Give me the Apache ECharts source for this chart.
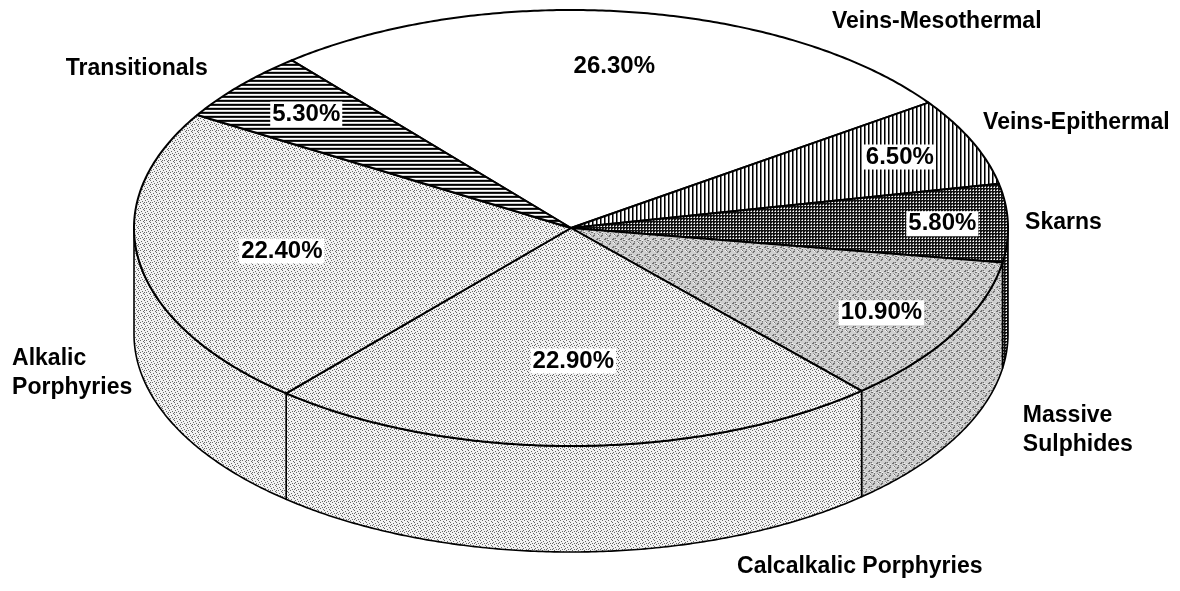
<!DOCTYPE html>
<html><head><meta charset="utf-8">
<script src="https://cdn.jsdelivr.net/npm/echarts@6/dist/echarts.min.js"></script>
<style>html,body{margin:0;padding:0;background:#fff}#c{width:1180px;height:591px}</style>
</head><body><div id="c"></div>
<script>
// ---- data ----
const categories = ['Veins-Mesothermal','Veins-Epithermal','Skarns','Massive Sulphides','Calcalkalic Porphyries','Alkalic Porphyries','Transitionals'];
const values = [26.3, 6.5, 5.8, 10.9, 22.9, 22.4, 5.3];
const nameLabels = ['Veins-Mesothermal','Veins-Epithermal','Skarns','Massive\nSulphides','Calcalkalic Porphyries','Alkalic\nPorphyries','Transitionals'];

// ---- layout ----
const PIE = {cx:571, cy:228, rx:437, ry:218, depth:106, startDeg:129.7};
const pctLabelRadius = [0.75,0.82,0.85,0.81,0.61,0.67,0.80];
const nameLabelAnchor = [[0.597,-0.945],[0.943,-0.482],[1.039,-0.023],[1.034,0.927],[0.380,1.555],[-1.279,0.667],[-1.156,-0.729]];

// ---- patterns ----
function pat(w,h,fn){const c=document.createElement('canvas');c.width=w;c.height=h;const x=c.getContext('2d');fn(x,w,h);return {image:c,repeat:'repeat'};}
function px(x,col,a,b){x.fillStyle=col;x.fillRect(a,b,1,1);}
const fills = [
  '#ffffff',
  pat(4,1,(x)=>{x.fillStyle='#fff';x.fillRect(0,0,4,1);px(x,'#000',0,0);px(x,'#777',1,0);}),
  pat(3,3,(x)=>{x.fillStyle='#111';x.fillRect(0,0,3,3);px(x,'#fff',1,1);px(x,'#999',1,0);px(x,'#999',0,1);}),
  pat(8,8,(x)=>{x.fillStyle='#cfcfcf';x.fillRect(0,0,8,8);for(let i=0;i<8;i++)for(let j=0;j<8;j++){const h=(i*7+j*13+i*j*3)%11;if(h===0||h===5)px(x,'#707070',i,j);else if(h===3)px(x,'#f4f4f4',i,j);else if(h===8)px(x,'#a0a0a0',i,j);}}),
  pat(6,6,(x)=>{x.fillStyle='#f2f2f2';x.fillRect(0,0,6,6);[[0,0],[3,1],[1,2],[4,3],[2,4],[5,5],[0,3]].forEach(p=>px(x,'#666',p[0],p[1]));}),
  pat(6,6,(x)=>{x.fillStyle='#f2f2f2';x.fillRect(0,0,6,6);[[0,0],[3,1],[1,2],[4,3],[2,4],[5,5],[0,4]].forEach(p=>px(x,'#6a6a6a',p[0],p[1]));}),
  pat(1,4,(x)=>{x.fillStyle='#fff';x.fillRect(0,0,1,4);px(x,'#000',0,0);px(x,'#222',0,1);px(x,'#ccc',0,3);})
];

const total = values.reduce((a,b)=>a+b,0);
function pt(deg,k,dz){const r=deg*Math.PI/180;return [PIE.cx+PIE.rx*k*Math.cos(r), PIE.cy-PIE.ry*k*Math.sin(r)+(dz||0)];}
function arc(a,b,dz){const pts=[];const n=Math.max(2,Math.ceil(Math.abs(a-b)/0.5));for(let s=0;s<=n;s++){pts.push(pt(a+(b-a)*s/n,1,dz));}return pts;}

const chart = echarts.init(document.getElementById('c'),null,{renderer:'canvas'});
chart.setOption({
  animation:false,
  backgroundColor:'#fff',
  series:[{
    type:'custom',
    coordinateSystem:'none',
    data: values.map(v=>[v]),
    renderItem:function(params,api){
      const i=params.dataIndex;
      let cum=0;for(let k=0;k<i;k++)cum+=values[k];
      const ts=PIE.startDeg-cum/total*360;
      const te=ts-api.value(0)/total*360;
      const ch=[];
      // side wall (front half: -180..0)
      for(const k of [-1,0,1]){
        const lo=Math.max(te,-180+360*k), hi=Math.min(ts,360*k);
        if(hi>lo+0.01){
          const top=arc(hi,lo,0), bot=arc(lo,hi,PIE.depth);
          ch.push({type:'polygon',shape:{points:top.concat(bot)},style:{fill:fills[i],stroke:'#000',lineWidth:1.6,lineJoin:'round'},z2:1});
        }
      }
      // top face
      const face=[[PIE.cx,PIE.cy]].concat(arc(ts,te,0));
      ch.push({type:'polygon',shape:{points:face},style:{fill:fills[i],stroke:'#000',lineWidth:2,lineJoin:'round'},z2:2});
      // percent label
      const mid=(ts+te)/2;
      const lp=pt(mid,pctLabelRadius[i],0);
      ch.push({type:'text',z2:20,style:{text:api.value(0).toFixed(2)+'%',x:lp[0],y:lp[1],align:'center',verticalAlign:'middle',
        fill:'#000',fontSize:24,fontWeight:'bold',fontFamily:'"Liberation Sans", Arial, sans-serif',backgroundColor:'#fff',padding:[1,2,0,2]}});
      // category label
      const an=nameLabelAnchor[i];
      ch.push({type:'text',z2:20,style:{text:nameLabels[i],x:PIE.cx+an[0]*PIE.rx,y:PIE.cy+an[1]*PIE.ry,align:'left',verticalAlign:'middle',
        fill:'#000',fontSize:23,fontWeight:'bold',lineHeight:29,fontFamily:'"Liberation Sans", Arial, sans-serif'}});
      return {type:'group',children:ch};
    }
  }]
});
</script></body></html>
